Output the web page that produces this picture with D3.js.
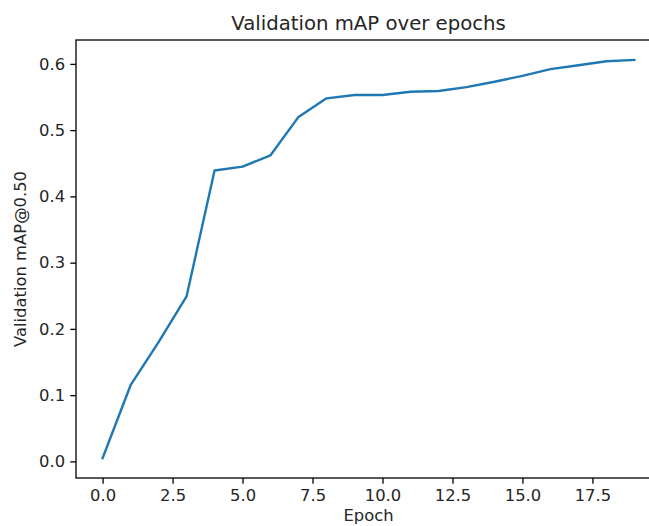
<!DOCTYPE html>
<html>
<head>
<meta charset="utf-8">
<script src="https://cdn.jsdelivr.net/npm/d3@7"></script>
<style>
  html, body { margin: 0; padding: 0; background: #fff; }
  svg { display: block; font-family: "DejaVu Sans", sans-serif; }
</style>
</head>
<body>
<script>
const epochs = [0,1,2,3,4,5,6,7,8,9,10,11,12,13,14,15,16,17,18,19];
const mapValues = [0.005,0.115,0.180,0.249,0.439,0.445,0.462,0.520,0.548,0.553,0.553,0.558,0.559,0.565,0.573,0.582,0.592,0.598,0.604,0.606];
const xTicks = [0,2.5,5,7.5,10,12.5,15,17.5];
const yTicks = [0,0.1,0.2,0.3,0.4,0.5,0.6];
const titleText = "Validation mAP over epochs";
const xLabel = "Epoch";
const yLabel = "Validation mAP@0.50";

const W = 649, H = 526;
const mLeft = 76, mTop = 40, mRight = 661, mBottom = 478;
const tickFont = "16.4px", titleFont = "19.7px";

const svg = d3.select("body").append("svg").attr("width", W).attr("height", H);

const xPad = (d3.max(epochs) - d3.min(epochs)) * 0.05;
const yPad = (d3.max(mapValues) - d3.min(mapValues)) * 0.05;
const x = d3.scaleLinear().domain([d3.min(epochs) - xPad, d3.max(epochs) + xPad]).range([mLeft, mRight]);
const y = d3.scaleLinear().domain([d3.min(mapValues) - yPad, d3.max(mapValues) + yPad]).range([mBottom, mTop]);

const xAxis = d3.axisBottom(x).tickValues(xTicks).tickFormat(d3.format(".1f")).tickSize(5.7).tickPadding(5.2);
const yAxis = d3.axisLeft(y).tickValues(yTicks).tickFormat(d3.format(".1f")).tickSize(5.7).tickPadding(5.2);

const gx = svg.append("g").attr("transform", `translate(0,${mBottom})`).call(xAxis);
const gy = svg.append("g").attr("transform", `translate(${mLeft},0)`).call(yAxis);
[gx, gy].forEach(g => {
  g.select(".domain").remove();
  g.selectAll(".tick line").attr("stroke", "#000").attr("stroke-width", 1.3);
  g.selectAll(".tick text").attr("fill", "#262626").style("font-size", tickFont).style("font-family", "DejaVu Sans");
});

const line = d3.line().x((d, i) => x(epochs[i])).y(d => y(d));
svg.append("path").datum(mapValues)
  .attr("d", line)
  .attr("fill", "none")
  .attr("stroke", "#1f77b4")
  .attr("stroke-width", 2.4)
  .attr("stroke-linejoin", "round")
  .attr("stroke-linecap", "square");

svg.append("rect").attr("x", mLeft).attr("y", mTop).attr("width", mRight - mLeft).attr("height", mBottom - mTop)
  .attr("fill", "none").attr("stroke", "#000").attr("stroke-width", 1.3);

svg.append("text").attr("x", (mLeft + mRight) / 2).attr("y", 30).attr("text-anchor", "middle")
  .style("font-size", titleFont).attr("fill", "#262626").text(titleText);
svg.append("text").attr("x", (mLeft + mRight) / 2).attr("y", 521).attr("text-anchor", "middle")
  .style("font-size", tickFont).attr("fill", "#262626").text(xLabel);
svg.append("text").attr("transform", `translate(26,${(mTop + mBottom) / 2}) rotate(-90)`).attr("text-anchor", "middle")
  .style("font-size", tickFont).attr("fill", "#262626").text(yLabel);
</script>
</body>
</html>
